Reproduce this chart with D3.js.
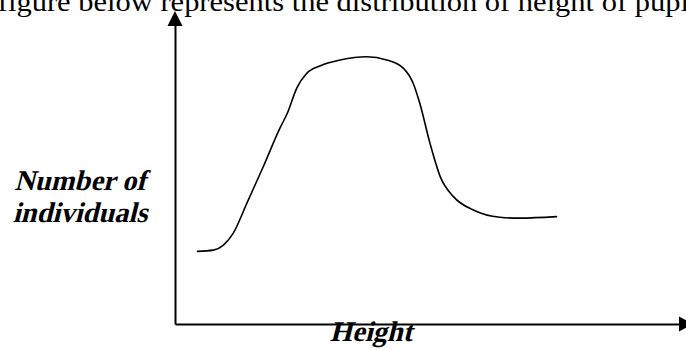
<!DOCTYPE html>
<html>
<head>
<meta charset="utf-8">
<script src="https://cdn.jsdelivr.net/npm/d3@7"></script>
<style>
  html, body { margin: 0; padding: 0; background: #fff; overflow: hidden; }
  svg { display: block; }
  text { font-family: "Liberation Serif", "Times New Roman", serif; fill: #000; }
</style>
</head>
<body>
<svg id="chart" width="686" height="350"></svg>
<script>
// Height (arbitrary units along the x axis)
const heights = [4.4, 7.5, 9.5, 11.4, 14.1, 17.3, 20.6, 22.0, 23.9, 25.8, 28.4, 32.4, 37.6,
                 41.5, 44.8, 46.7, 48.0, 50.0, 52.0, 54.6, 58.5, 63.7, 67.6, 74.8];
// Number of individuals at each height (arbitrary units)
const individuals = [24.3, 24.7, 26.4, 30.3, 40.4, 52.6, 65.6, 70.4, 79.0, 83.8, 86.3, 88.3, 89.4,
                     88.3, 85.5, 80.5, 73.8, 60.4, 49.3, 42.6, 38.1, 35.7, 35.4, 35.9];

const titleText = "figure below represents the distribution of height of pupils";
const yLabelLines = ["Number of", "individuals"];
const xLabel = "Height";

const svg = d3.select("#chart");

const x = d3.scaleLinear().domain([0, 100]).range([175, 685]);
const y = d3.scaleLinear().domain([0, 100]).range([324, 25]);

// Heading line of the page text, running off the top and right edges
svg.append("text")
  .attr("x", -2)
  .attr("y", 11)
  .attr("font-size", 28)
  .attr("transform", "scale(1.09,1)")
  .text(titleText);

// Axes without ticks: only the domain lines
const xAxis = svg.append("g")
  .attr("transform", `translate(0,${y(0)})`)
  .call(d3.axisBottom(x).tickValues([]).tickSizeOuter(0));
const yAxis = svg.append("g")
  .attr("transform", `translate(${x(0)},0)`)
  .call(d3.axisLeft(y).tickValues([]).tickSizeOuter(0));
[xAxis, yAxis].forEach(g => g.select(".domain").attr("stroke", "#000").attr("stroke-width", 2));

// Arrowheads at the ends of both axes
const yTop = y(100), xRight = 679;
svg.append("path")
  .attr("d", `M${x(0) - 7.5},${yTop + 1} L${x(0) + 7.5},${yTop + 1} L${x(0)},${yTop - 14} Z`)
  .attr("fill", "#000");
svg.append("path")
  .attr("d", `M${xRight},${y(0) - 7.5} L${xRight},${y(0) + 7.5} L${xRight + 14},${y(0)} Z`)
  .attr("fill", "#000");

// Distribution curve
const pts = heights.map((h, i) => [h, individuals[i]]);
const line = d3.line()
  .x(d => x(d[0]))
  .y(d => y(d[1]))
  .curve(d3.curveMonotoneX);
svg.append("path")
  .datum(pts)
  .attr("d", line)
  .attr("fill", "none")
  .attr("stroke", "#000")
  .attr("stroke-width", 1.6)
  .attr("stroke-linecap", "round");

// Bold slanted label helper (serif bold, sheared into an italic)
function slantLabel(cx, cy, txt) {
  svg.append("g")
    .attr("transform", `translate(${cx},${cy}) skewX(-14)`)
    .append("text")
    .attr("x", 0)
    .attr("y", 0)
    .attr("font-size", 28.5)
    .attr("font-weight", "bold")
    .attr("text-anchor", "middle")
    .text(txt);
}

// Axis titles
yLabelLines.forEach((t, i) => slantLabel(80, 190 + i * 32, t));
slantLabel(371, 341, xLabel);
</script>
</body>
</html>
